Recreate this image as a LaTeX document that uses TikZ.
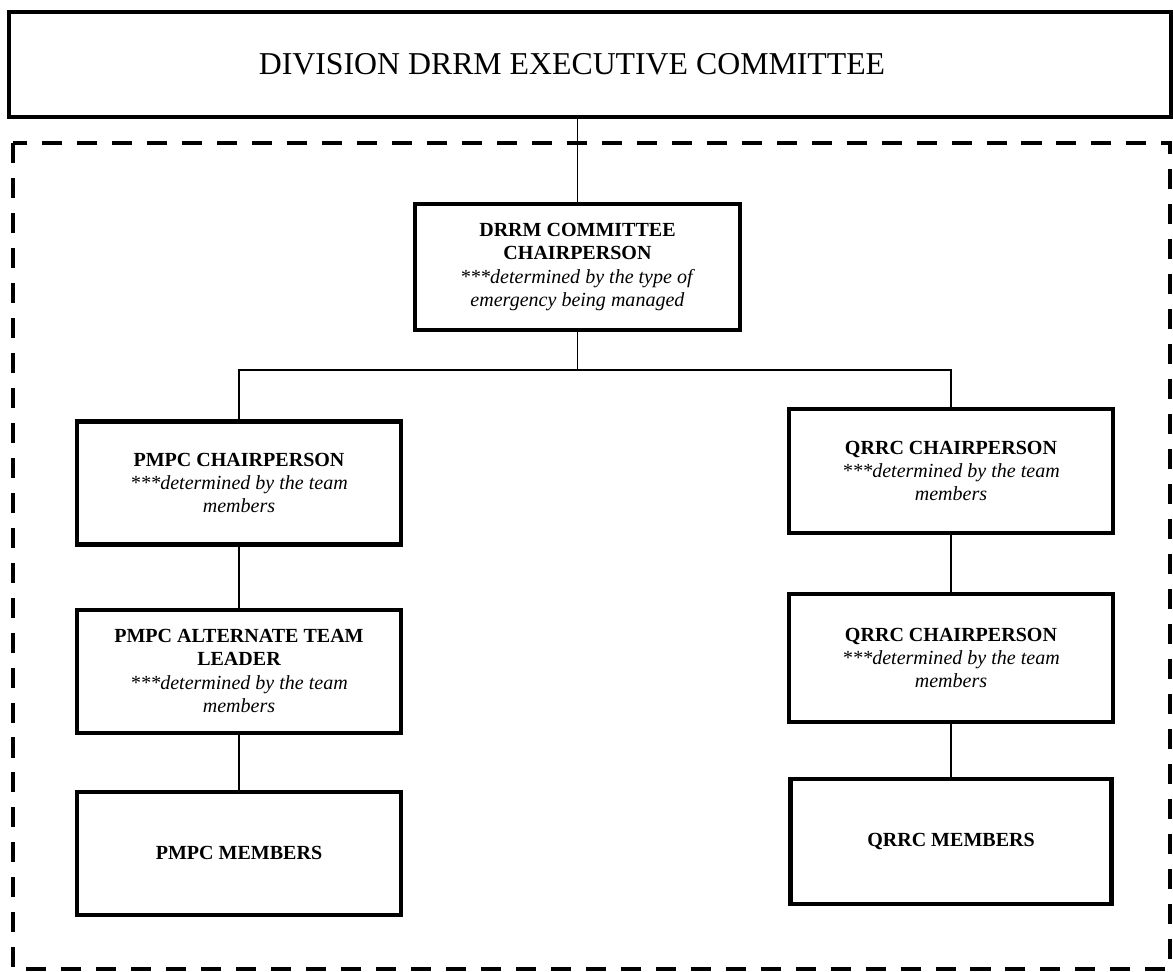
\documentclass[tikz,border=0pt]{standalone}
\usepackage{fontspec}
\setmainfont{Liberation Serif}
\usepackage{tikz}
\usetikzlibrary{positioning}
\tikzstyle{role}=[draw,line width=2.3pt,minimum width=6.48cm,minimum height=2.46cm,inner sep=0pt,align=center,font=\fontsize{11.4}{13.2}\selectfont\bfseries]
\tikzstyle{exec}=[draw,line width=2.3pt,minimum width=23.24cm,minimum height=2.1cm,inner sep=0pt,font=\fontsize{18.1}{21}\selectfont]
\tikzstyle{link}=[line width=0.8pt]
\tikzstyle{zone}=[line width=2.6pt,dash pattern=on 11.4pt off 8.5pt]
\newcommand{\detnote}[1]{\textmd{\textit{#1}}}

\begin{document}
\begin{tikzpicture}
\useasboundingbox (0,0) rectangle (23.46,-19.44);

\node[exec] (divexec) at (11.8,-1.29) {DIVISION DRRM EXECUTIVE COMMITTEE\hspace*{0.72cm}};

\draw[zone] (0.26,-2.86) rectangle (23.4,-19.38);

\node[role, minimum width=6.5cm, minimum height=2.52cm] (drrmchair) at (11.55,-5.34)
    {DRRM COMMITTEE\\CHAIRPERSON\\\detnote{***determined by the type of}\\\detnote{emergency being managed}};

\coordinate (bus) at (11.55,-7.4);

% PMPC side
\node[role] (pmpcchair) at (4.78,-9.66) {PMPC CHAIRPERSON\\\detnote{***determined by the team}\\\detnote{members}};
\node[role, below=1.22cm of pmpcchair] (pmpcalt) {PMPC ALTERNATE TEAM\\LEADER\\\detnote{***determined by the team}\\\detnote{members}};
\node[role, below=1.1cm of pmpcalt] (pmpcmem) {PMPC MEMBERS};

% QRRC side
\node[role, minimum height=2.48cm] (qrrcchair) at (19.02,-9.42) {QRRC CHAIRPERSON\\\detnote{***determined by the team}\\\detnote{members}};
\node[role, minimum height=2.56cm, below=1.14cm of qrrcchair] (qrrcsub) {QRRC CHAIRPERSON\\\detnote{***determined by the team}\\\detnote{members}};
\node[role, minimum width=6.42cm, minimum height=2.5cm, below=1.06cm of qrrcsub] (qrrcmem) {QRRC MEMBERS};

\draw[link] (divexec.south -| drrmchair.north) -- (drrmchair.north);
\draw[link] (drrmchair.south) -- (bus);
\draw[link] (pmpcchair.north) |- (qrrcchair.north |- bus) -- (qrrcchair.north);
\draw[link] (pmpcchair) -- (pmpcalt);
\draw[link] (pmpcalt) -- (pmpcmem);
\draw[link] (qrrcchair) -- (qrrcsub);
\draw[link] (qrrcsub) -- (qrrcmem);

\end{tikzpicture}
\end{document}
